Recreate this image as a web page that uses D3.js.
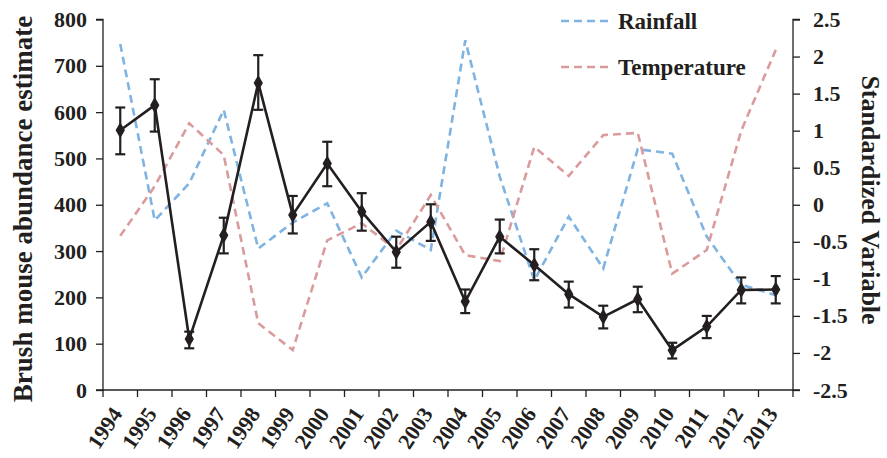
<!DOCTYPE html>
<html><head><meta charset="utf-8">
<script src="https://cdn.jsdelivr.net/npm/d3@7"></script>
<style>body{margin:0;background:#fff}svg{display:block}text{font-family:"Liberation Serif","Times New Roman",serif;font-weight:bold;fill:#231f20}</style>
</head><body><svg id="c" width="887" height="458"></svg>
<script>
const years = ["1994","1995","1996","1997","1998","1999","2000","2001","2002","2003","2004","2005","2006","2007","2008","2009","2010","2011","2012","2013"];
const abundance = [561,615,110,334,663,378,489,385,298,363,191,331,270,207,158,196,86,137,216,217];
const abundLow  = [509,558,90,295,605,338,440,344,264,322,166,295,237,178,133,168,68,112,187,187];
const abundHigh = [610,671,126,372,723,419,536,425,331,401,217,368,304,234,182,223,102,160,243,246];
const rainfall = [2.17,-0.21,0.29,1.28,-0.59,-0.24,0.02,-0.98,-0.35,-0.61,2.22,0.38,-1.02,-0.16,-0.86,0.75,0.69,-0.43,-1.08,-1.22];
const temperature = [-0.42,0.25,1.1,0.67,-1.6,-1.96,-0.48,-0.25,-0.61,0.13,-0.68,-0.76,0.78,0.39,0.94,0.97,-0.93,-0.61,1.0,2.09];
const leftTicks = [0,100,200,300,400,500,600,700,800];
const rightTicks = [-2.5,-2,-1.5,-1,-0.5,0,0.5,1,1.5,2,2.5];

const svg = d3.select("#c");
const L = 103, R = 793, T = 19.5, B = 390;
const x = d3.scaleBand().domain(years).range([L, R]);
const yL = d3.scaleLinear().domain([0, 800]).range([B, T]);
const yR = d3.scaleLinear().domain([-2.5, 2.5]).range([B, T]);
const cx = d => x(d) + x.bandwidth() / 2;

// axes
const gL = svg.append("g").attr("transform", `translate(${L},0)`)
  .call(d3.axisLeft(yL).tickValues(leftTicks).tickSize(7).tickPadding(9).tickFormat(d3.format("d")));
const gR = svg.append("g").attr("transform", `translate(${R},0)`)
  .call(d3.axisRight(yR).tickValues(rightTicks).tickSize(7).tickPadding(13).tickFormat(d => String(d)));
const gX = svg.append("g").attr("transform", `translate(0,${B})`)
  .call(d3.axisBottom(x).tickSize(7).tickFormat(d => d));
[gL, gR, gX].forEach(g => {
  g.selectAll("path.domain").attr("stroke", "#231f20").attr("stroke-width", 1.3);
  g.selectAll(".tick line").attr("stroke", "#231f20").attr("stroke-width", 1.3);
  g.selectAll("text").style("font-size", "22px").style("font-family", "'Liberation Serif',serif").style("font-weight", "bold").attr("fill", "#231f20");
});
// x ticks at band boundaries
gX.selectAll(".tick line").attr("x1", -x.bandwidth()/2).attr("x2", -x.bandwidth()/2);
gX.selectAll(".tick").filter((d,i)=>i===years.length-1).append("line")
  .attr("x1", x.bandwidth()/2).attr("x2", x.bandwidth()/2).attr("y1",0).attr("y2",7)
  .attr("stroke","#231f20").attr("stroke-width",1.3);
gX.selectAll(".tick text").attr("text-anchor", "end").attr("dy", null).attr("y", 0)
  .attr("transform", "translate(3,24) rotate(-56)");
gX.selectAll("path.domain").attr("d", `M${L},0H${R}`);
gL.select("path.domain").attr("d", `M-7,${T}H0V${B}H-7`);
gR.select("path.domain").attr("d", `M7,${T}H0V${B}H7`);

// climate lines
const lineR = d3.line().x((d,i) => cx(years[i])).y(d => yR(d));
svg.append("path").datum(rainfall).attr("d", lineR).attr("fill","none")
  .attr("stroke","#7fb3e1").attr("stroke-width",2.6).attr("stroke-dasharray","8,5");
svg.append("path").datum(temperature).attr("d", lineR).attr("fill","none")
  .attr("stroke","#d99b9b").attr("stroke-width",2.6).attr("stroke-dasharray","8,5");

// abundance
const lineL = d3.line().x((d,i) => cx(years[i])).y(d => yL(d));
svg.append("path").datum(abundance).attr("d", lineL).attr("fill","none")
  .attr("stroke","#231f20").attr("stroke-width",2.6);
const eb = svg.append("g").attr("stroke","#231f20").attr("stroke-width",2.2);
years.forEach((yr,i) => {
  const px = cx(yr);
  eb.append("line").attr("x1",px).attr("x2",px).attr("y1",yL(abundLow[i])).attr("y2",yL(abundHigh[i]));
  eb.append("line").attr("x1",px-5).attr("x2",px+5).attr("y1",yL(abundLow[i])).attr("y2",yL(abundLow[i]));
  eb.append("line").attr("x1",px-5).attr("x2",px+5).attr("y1",yL(abundHigh[i])).attr("y2",yL(abundHigh[i]));
});
svg.append("g").selectAll("path").data(abundance).join("path")
  .attr("d", d3.symbol(d3.symbolDiamond, 75))
  .attr("transform", (d,i) => `translate(${cx(years[i])},${yL(d)})`)
  .attr("fill","#231f20");

// legend
const leg = [["Rainfall","#7fb3e1",21],["Temperature","#d99b9b",67]];
leg.forEach(([lab,col,ly]) => {
  svg.append("line").attr("x1",561).attr("x2",613).attr("y1",ly).attr("y2",ly)
    .attr("stroke",col).attr("stroke-width",2.6).attr("stroke-dasharray","8,5");
  svg.append("text").attr("x",618).attr("y",ly+8).style("font-size","23px").text(lab);
});

// axis titles
svg.append("text").attr("transform",`translate(32,209) rotate(-90)`).attr("text-anchor","middle")
  .style("font-size","27px").text("Brush mouse abundance estimate");
svg.append("text").attr("transform",`translate(862,200) rotate(90)`).attr("text-anchor","middle")
  .style("font-size","26px").text("Standardized Variable");
</script></body></html>
